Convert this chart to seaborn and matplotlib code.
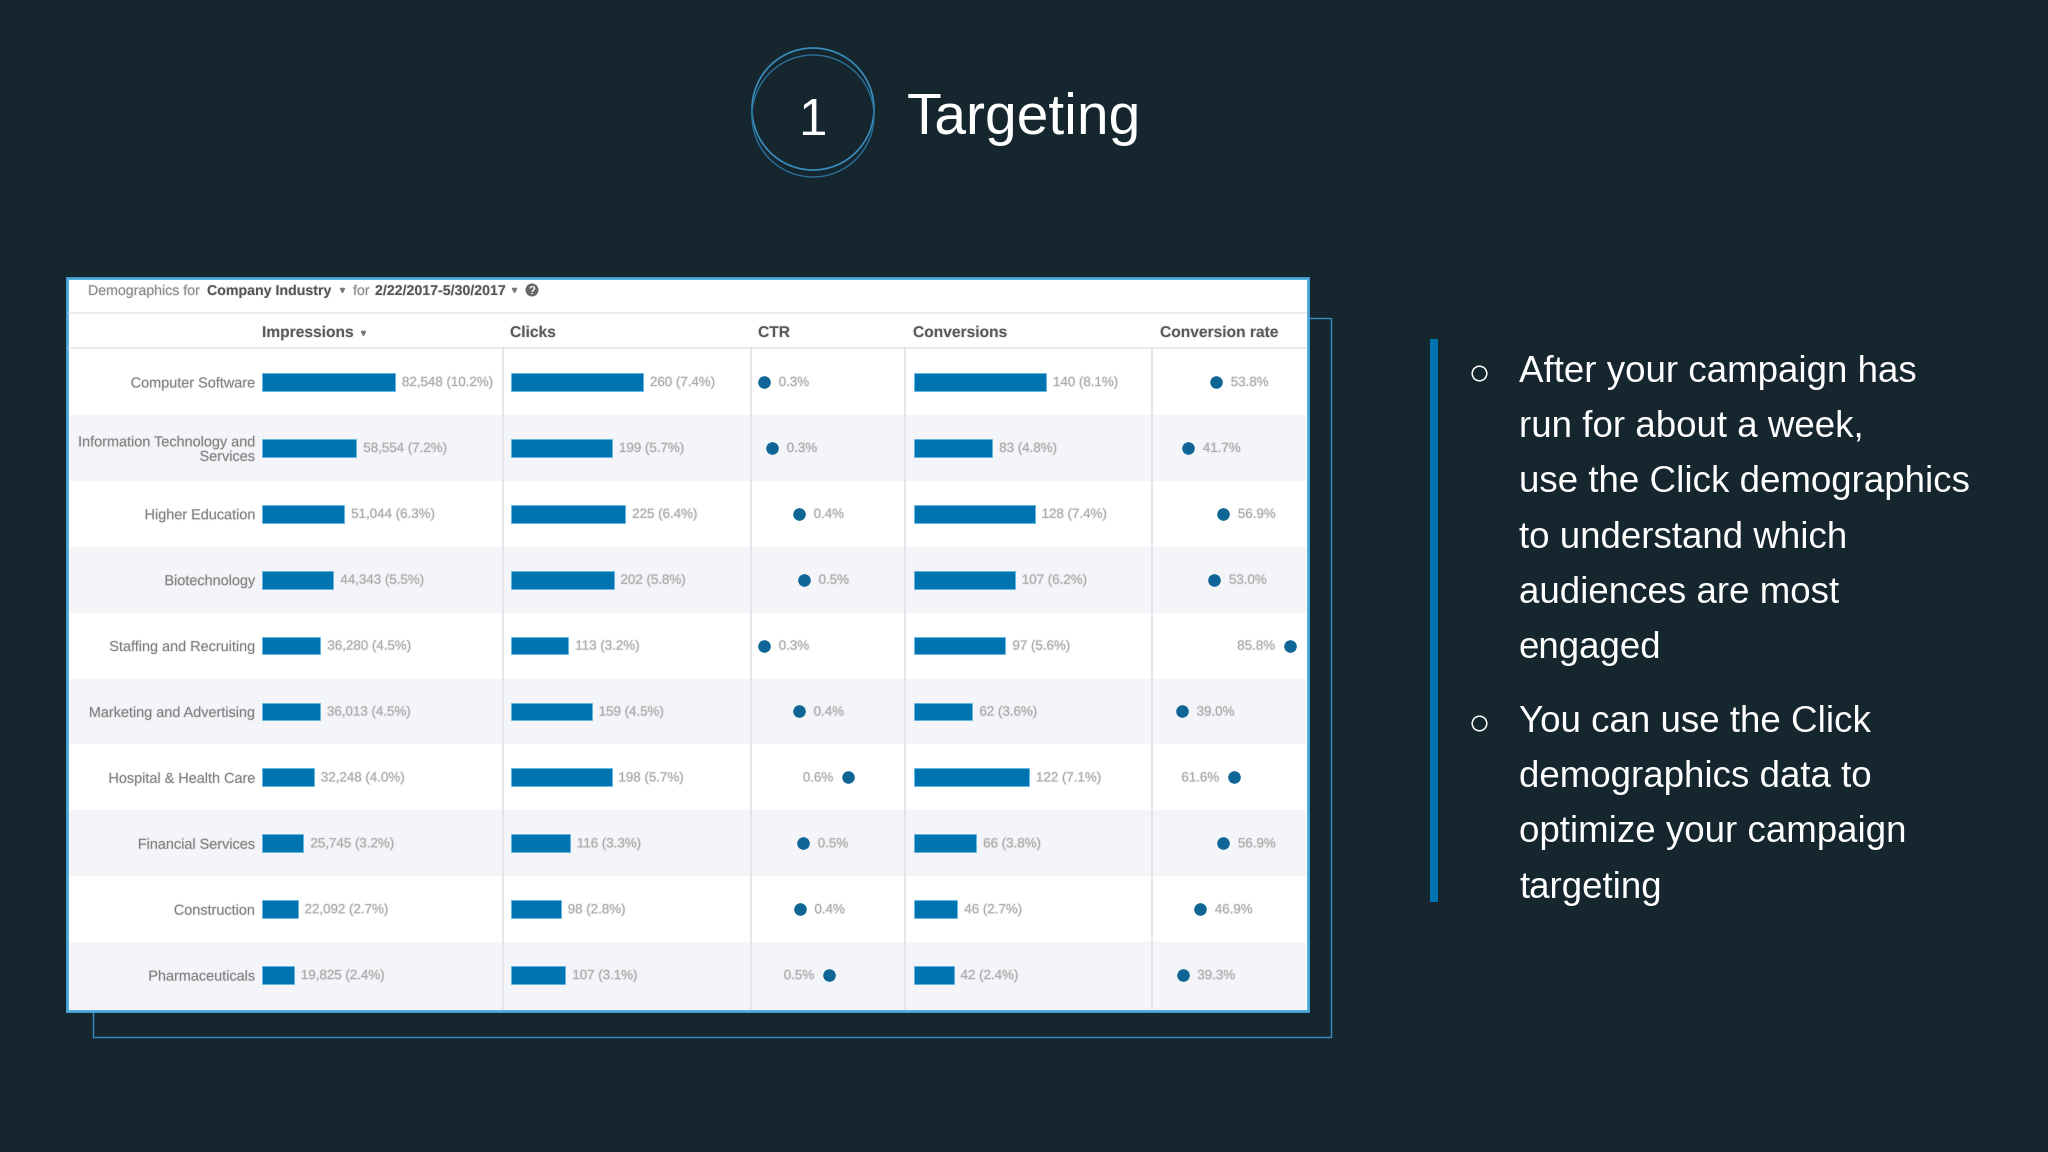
import matplotlib
matplotlib.use("Agg")
import matplotlib.pyplot as plt
import matplotlib.patheffects as pe
from matplotlib.patches import Rectangle, Circle
import seaborn as sns

# values
industries = ["Computer Software", "Information Technology and\nServices", "Higher Education",
              "Biotechnology", "Staffing and Recruiting", "Marketing and Advertising",
              "Hospital & Health Care", "Financial Services", "Construction", "Pharmaceuticals"]
impressions = [82548, 58554, 51044, 44343, 36280, 36013, 32248, 25745, 22092, 19825]
impressions_pct = [10.2, 7.2, 6.3, 5.5, 4.5, 4.5, 4.0, 3.2, 2.7, 2.4]
clicks = [260, 199, 225, 202, 113, 159, 198, 116, 98, 107]
clicks_pct = [7.4, 5.7, 6.4, 5.8, 3.2, 4.5, 5.7, 3.3, 2.8, 3.1]
ctr = [0.311, 0.34, 0.437, 0.455, 0.311, 0.437, 0.614, 0.452, 0.44, 0.545]
conversions = [140, 83, 128, 107, 97, 62, 122, 66, 46, 42]
conversions_pct = [8.1, 4.8, 7.4, 6.2, 5.6, 3.6, 7.1, 3.8, 2.7, 2.4]
conv_rate = [53.8, 41.7, 56.9, 53.0, 85.8, 39.0, 61.6, 56.9, 46.9, 39.3]

bullet_1 = ["After your campaign has", "run for about a week,", "use the Click demographics",
            "to understand which", "audiences are most", "engaged"]
bullet_2 = ["You can use the Click", "demographics data to", "optimize your campaign", "targeting"]

BG = "#15262f"
BLUE = "#0073b1"
DOT = "#0f6595"
LINE = "#3a8fc0"
W, H = 2048, 1152
ROW_TOP, ROW_BOTTOM = 349, 1008

sns.set_theme(style="white")
plt.rcParams["font.family"] = ["Liberation Sans", "DejaVu Sans"]

fig = plt.figure(figsize=(W / 100, H / 100), dpi=100, facecolor=BG)

# whole slide in pixel coordinates
bg = fig.add_axes([0, 0, 1, 1], zorder=0)
bg.set_xlim(0, W)
bg.set_ylim(H, 0)
bg.axis("off")

# heading
bg.add_patch(Circle((813, 109), 61, fill=False, ec=LINE, lw=1.2))
bg.add_patch(Circle((813, 116), 61, fill=False, ec="#2b7199", lw=1.0))
bg.text(812, 135, "1", color="white", fontsize=37, ha="center", va="baseline")
bg.text(907, 134, "Targeting", color="white", fontsize=41, ha="left", va="baseline")

# frame behind the screenshot, then the white panel
bg.add_patch(Rectangle((93, 318), 1238, 719, fill=False, ec=LINE, lw=1.0, zorder=1))
bg.add_patch(Rectangle((67, 278), 1241, 733, fc="white", ec="#4aa8dc", lw=2, zorder=2))
row_h = (ROW_BOTTOM - ROW_TOP) / 10
for i in range(1, 10, 2):
    top = ROW_TOP + i * row_h
    bg.add_patch(Rectangle((69, top), 1237, 1010 - top if i == 9 else row_h, fc="#f3f5f8", ec="none", zorder=2.1))
for y in (313, 348):
    bg.plot([69, 1306], [y, y], color="#e5e7ea", lw=1.2, zorder=2.2)
for x in (503, 751, 905, 1152):
    bg.plot([x, x], [348, 1009], color="#e0e2e6", lw=1.2, zorder=2.2)

soft = [pe.withStroke(linewidth=1.3, foreground="#aaaaaa", alpha=0.18)]

# panel title
for x, txt, weight, col in [(88, "Demographics for", "normal", "#8a8a8a"),
                            (207, "Company Industry", "bold", "#555555"),
                            (353, "for", "normal", "#8a8a8a"),
                            (375, "2/22/2017-5/30/2017", "bold", "#555555")]:
    bg.text(x, 295, txt, fontsize=10.2, fontweight=weight, color=col, va="baseline", zorder=3, path_effects=soft)
bg.plot([342, 514, 363], [290, 290, 333], ls="", marker="v", ms=3, color="#777777", zorder=3)
bg.add_patch(Circle((532, 290), 6.5, fc="#666666", ec="none", zorder=3))
bg.text(532, 294, "?", fontsize=8, color="white", ha="center", va="baseline", fontweight="bold", zorder=4)

# column headers
for x, txt in [(262, "Impressions"), (510, "Clicks"), (758, "CTR"), (913, "Conversions"), (1160, "Conversion rate")]:
    bg.text(x, 337, txt, fontsize=11.2, fontweight="bold", color="#5a5a5a", va="baseline", zorder=3,
            path_effects=soft)


def column_ax(left, right):
    ax = fig.add_axes([left / W, 1 - ROW_BOTTOM / H, (right - left) / W, (ROW_BOTTOM - ROW_TOP) / H], zorder=2)
    ax.patch.set_alpha(0)
    sns.despine(ax=ax, left=True, bottom=True)
    return ax


def bar_column(left, right, values, pct, bar_px, fmt):
    ax = column_ax(left, right)
    sns.barplot(x=values, y=industries, orient="h", color=BLUE, saturation=1, width=0.27,
                edgecolor="#5fb6e8", linewidth=0.5, ax=ax)
    ax.set_xlim(0, (right - left) * max(values) / bar_px)
    ax.set_ylim(9.5, -0.5)
    ax.set(xlabel="", ylabel="", xticks=[])
    labels = [f"{format(v, fmt)} ({p:.1f}%)" for v, p in zip(values, pct)]
    texts = ax.bar_label(ax.containers[0], labels=labels, padding=5, fontsize=9.6, color="#aaaaaa", path_effects=soft)
    for t in texts:
        t.xyann = (5, -0.8)
    return ax


def dot_column(left, right, values, lims, flip_over, fmt):
    ax = column_ax(left, right)
    sns.scatterplot(x=values, y=industries, color=DOT, s=82, linewidth=0, legend=False, ax=ax)
    ax.set_xlim(*lims)
    ax.set_ylim(9.5, -0.5)
    ax.set(xlabel="", ylabel="", xticks=[], yticks=[])
    for i, v in enumerate(values):
        flip = v > flip_over
        ax.annotate(format(v, fmt) + "%", (v, i), xytext=(-10.5 if flip else 10.5, -0.8), textcoords="offset points",
                    ha="right" if flip else "left", va="center", fontsize=9.6, color="#aaaaaa", path_effects=soft)
    return ax


imp_ax = bar_column(262, 503, impressions, impressions_pct, 133, ",d")
imp_ax.tick_params(axis="y", length=0, pad=5, labelsize=10.4, labelcolor="#808080")
for lab in imp_ax.get_yticklabels():
    lab.set_linespacing(1.05)
    lab.set_path_effects(soft)

bar_column(511, 751, clicks, clicks_pct, 132, "d").set_yticks([])
dot_column(750, 904, ctr, (0.26, 0.816), 0.5, ".1f")
bar_column(914, 1152, conversions, conversions_pct, 132, "d").set_yticks([])
dot_column(1152, 1309, conv_rate, (26.0, 94.0), 60, ".1f")

# right hand text
bg.add_patch(Rectangle((1430, 339), 8, 563, fc=BLUE, ec="none"))
for y0, lines in [(381.5, bullet_1), (731.5, bullet_2)]:
    bg.plot([1479], [y0 - 9], marker="o", ms=10.5, mfc="none", mec="white", mew=1.1, ls="")
    for i, line in enumerate(lines):
        bg.text(1519, y0 + i * 55.4, line, color="white", fontsize=26.5, ha="left", va="baseline")

fig.savefig("out.png", dpi=100, facecolor=BG)
